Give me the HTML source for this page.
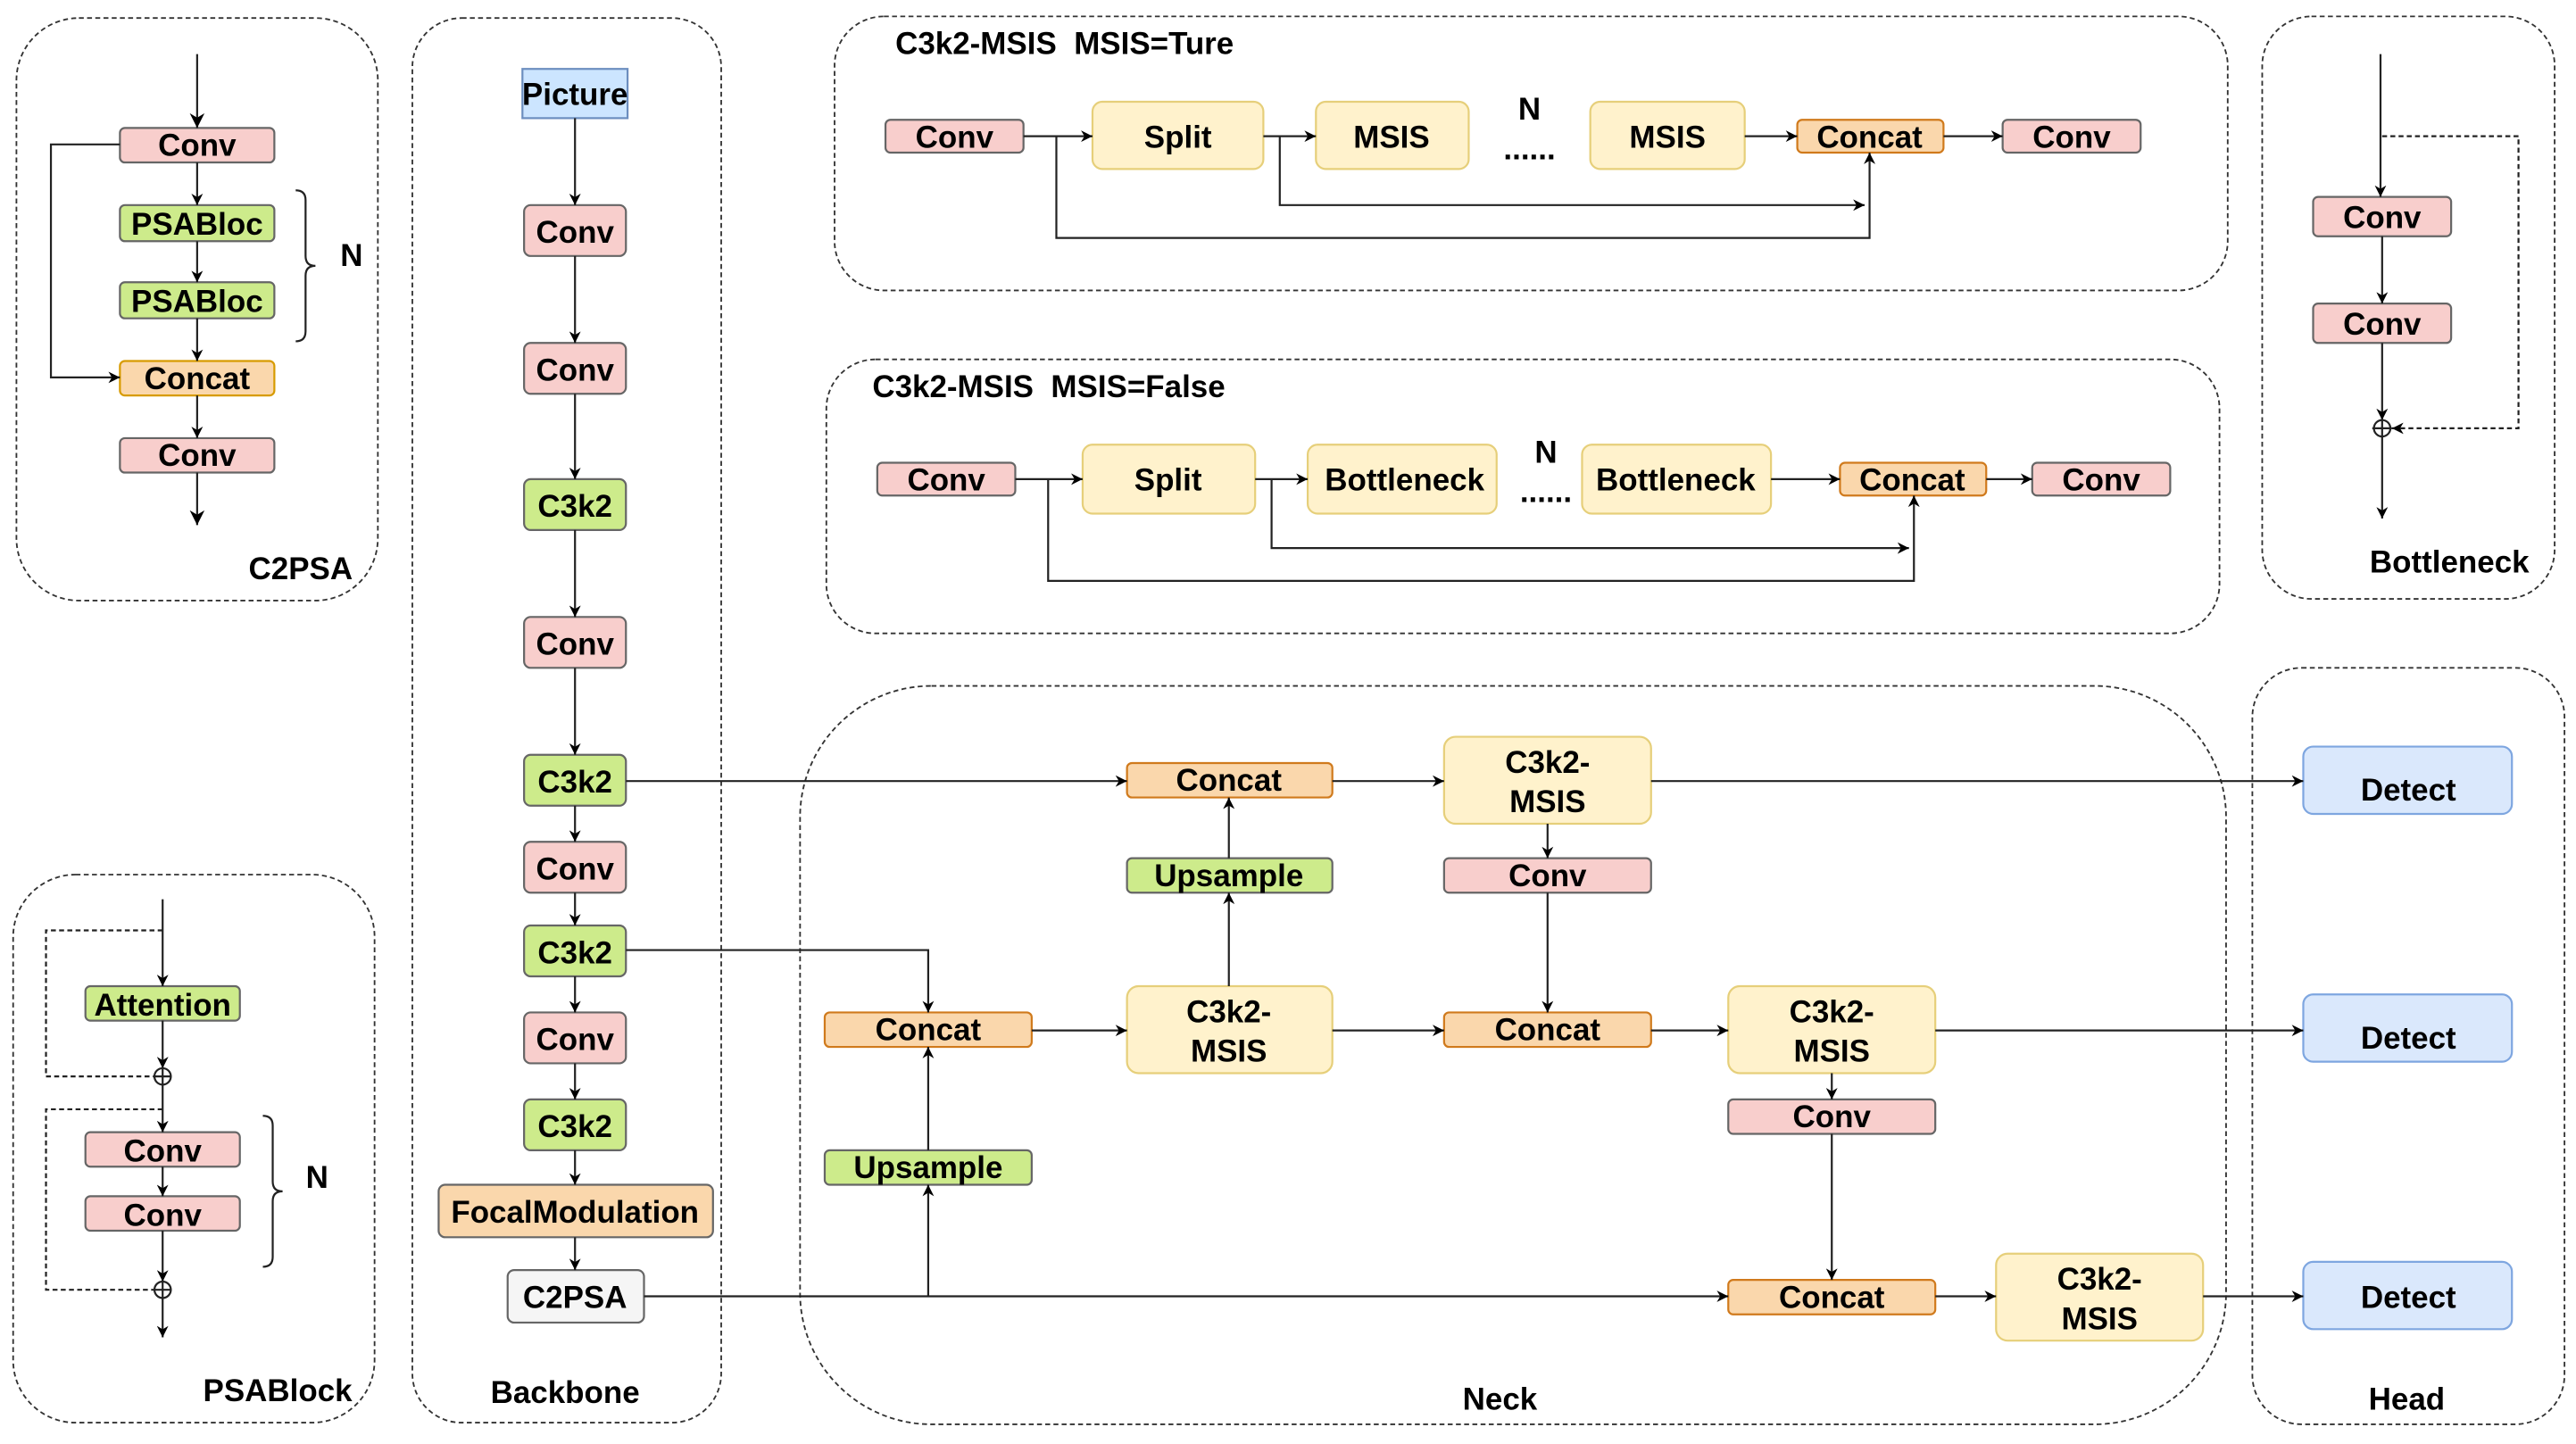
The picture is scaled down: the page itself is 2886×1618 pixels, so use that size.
<!DOCTYPE html>
<html><head><meta charset="utf-8"><style>
html,body{margin:0;padding:0;background:#fff;}
svg{display:block;}
text{font-family:"Liberation Sans",Arial,sans-serif;font-weight:bold;fill:#000;}
</style></head><body>
<svg width="2886" height="1618" viewBox="0 0 1568 880" preserveAspectRatio="none" xmlns="http://www.w3.org/2000/svg">
<defs>
<marker id="a" viewBox="0 0 10 10" refX="10" refY="5" markerWidth="7" markerHeight="7" orient="auto" markerUnits="userSpaceOnUse">
<path d="M0,0 L10,5 L0,10 L3,5 z" fill="#000"/></marker>
<marker id="b" viewBox="0 0 10 10" refX="10" refY="5" markerWidth="9" markerHeight="9" orient="auto" markerUnits="userSpaceOnUse">
<path d="M0,0 L10,5 L0,10 L3,5 z" fill="#000"/></marker>
</defs>
<g fill="none" stroke="#333" stroke-width="1" stroke-dasharray="3,2">
<rect x="10" y="11" width="220" height="355" rx="38"/>
<rect x="251" y="11" width="188" height="856" rx="30"/>
<rect x="508" y="10" width="848" height="167" rx="30"/>
<rect x="503" y="219" width="848" height="167" rx="30"/>
<rect x="1377" y="10" width="178" height="355" rx="30"/>
<rect x="8" y="533" width="220" height="334" rx="38"/>
<rect x="487" y="418" width="868" height="450" rx="80"/>
<rect x="1371" y="407" width="190" height="461" rx="30"/>
</g>
<g font-size="19" text-anchor="middle">
<text x="183" y="353">C2PSA</text>
<text x="344" y="855">Backbone</text>
<text x="1491" y="349">Bottleneck</text>
<text x="169" y="854">PSABlock</text>
<text x="913" y="859">Neck</text>
<text x="1465" y="859">Head</text>
<text x="214" y="162">N</text>
<text x="193" y="724">N</text>
<text x="931" y="73">N</text>
<text x="931" y="97">......</text>
<text x="941" y="282">N</text>
<text x="941" y="306">......</text>
</g>
<g font-size="19">
<text x="545" y="33" xml:space="preserve" style="white-space:pre">C3k2-MSIS  MSIS=Ture</text>
<text x="531" y="242" xml:space="preserve" style="white-space:pre">C3k2-MSIS  MSIS=False</text>
</g>
<g stroke-width="1.2">
<rect x="73" y="78" width="94" height="21" rx="3" fill="#f8cecc" stroke="#666"/>
<rect x="73" y="125" width="94" height="22" rx="3" fill="#cdeb8b" stroke="#666"/>
<rect x="73" y="172" width="94" height="22" rx="3" fill="#cdeb8b" stroke="#666"/>
<rect x="73" y="220" width="94" height="21" rx="3" fill="#fad7ac" stroke="#d79b00"/>
<rect x="73" y="267" width="94" height="21" rx="3" fill="#f8cecc" stroke="#666"/>
<rect x="318" y="42" width="64" height="30" fill="#cce5ff" stroke="#6c8ebf"/>
<rect x="319" y="125" width="62" height="31" rx="4" fill="#f8cecc" stroke="#666"/>
<rect x="319" y="209" width="62" height="31" rx="4" fill="#f8cecc" stroke="#666"/>
<rect x="319" y="292" width="62" height="31" rx="4" fill="#cdeb8b" stroke="#666"/>
<rect x="319" y="376" width="62" height="31" rx="4" fill="#f8cecc" stroke="#666"/>
<rect x="319" y="460" width="62" height="31" rx="4" fill="#cdeb8b" stroke="#666"/>
<rect x="319" y="513" width="62" height="31" rx="4" fill="#f8cecc" stroke="#666"/>
<rect x="319" y="564" width="62" height="31" rx="4" fill="#cdeb8b" stroke="#666"/>
<rect x="319" y="617" width="62" height="31" rx="4" fill="#f8cecc" stroke="#666"/>
<rect x="319" y="670" width="62" height="31" rx="4" fill="#cdeb8b" stroke="#666"/>
<rect x="267" y="722" width="167" height="32" rx="4" fill="#fad7ac" stroke="#666"/>
<rect x="309" y="774" width="83" height="32" rx="4" fill="#f5f5f5" stroke="#666"/>
<rect x="539" y="73" width="84" height="20" rx="3" fill="#f8cecc" stroke="#666"/>
<rect x="665" y="62" width="104" height="41" rx="6" fill="#fff2cc" stroke="#e6cf7a"/>
<rect x="801" y="62" width="93" height="41" rx="6" fill="#fff2cc" stroke="#e6cf7a"/>
<rect x="968" y="62" width="94" height="41" rx="6" fill="#fff2cc" stroke="#e6cf7a"/>
<rect x="1094" y="73" width="89" height="20" rx="3" fill="#fad7ac" stroke="#d07a1c"/>
<rect x="1219" y="73" width="84" height="20" rx="3" fill="#f8cecc" stroke="#666"/>
<rect x="534" y="282" width="84" height="20" rx="3" fill="#f8cecc" stroke="#666"/>
<rect x="659" y="271" width="105" height="42" rx="6" fill="#fff2cc" stroke="#e6cf7a"/>
<rect x="796" y="271" width="115" height="42" rx="6" fill="#fff2cc" stroke="#e6cf7a"/>
<rect x="963" y="271" width="115" height="42" rx="6" fill="#fff2cc" stroke="#e6cf7a"/>
<rect x="1120" y="282" width="89" height="20" rx="3" fill="#fad7ac" stroke="#d07a1c"/>
<rect x="1237" y="282" width="84" height="20" rx="3" fill="#f8cecc" stroke="#666"/>
<rect x="1408" y="120" width="84" height="24" rx="3" fill="#f8cecc" stroke="#666"/>
<rect x="1408" y="185" width="84" height="24" rx="3" fill="#f8cecc" stroke="#666"/>
<rect x="52" y="601" width="94" height="21" rx="3" fill="#cdeb8b" stroke="#666"/>
<rect x="52" y="690" width="94" height="21" rx="3" fill="#f8cecc" stroke="#666"/>
<rect x="52" y="729" width="94" height="21" rx="3" fill="#f8cecc" stroke="#666"/>
<rect x="686" y="465" width="125" height="21" rx="3" fill="#fad7ac" stroke="#d07a1c"/>
<rect x="879" y="449" width="126" height="53" rx="7" fill="#fff2cc" stroke="#e6cf7a"/>
<rect x="879" y="523" width="126" height="21" rx="3" fill="#f8cecc" stroke="#666"/>
<rect x="686" y="523" width="125" height="21" rx="3" fill="#cdeb8b" stroke="#666"/>
<rect x="502" y="617" width="126" height="21" rx="3" fill="#fad7ac" stroke="#d07a1c"/>
<rect x="686" y="601" width="125" height="53" rx="7" fill="#fff2cc" stroke="#e6cf7a"/>
<rect x="879" y="617" width="126" height="21" rx="3" fill="#fad7ac" stroke="#d07a1c"/>
<rect x="1052" y="601" width="126" height="53" rx="7" fill="#fff2cc" stroke="#e6cf7a"/>
<rect x="1052" y="670" width="126" height="21" rx="3" fill="#f8cecc" stroke="#666"/>
<rect x="502" y="701" width="126" height="21" rx="3" fill="#cdeb8b" stroke="#666"/>
<rect x="1052" y="780" width="126" height="21" rx="3" fill="#fad7ac" stroke="#d07a1c"/>
<rect x="1215" y="764" width="126" height="53" rx="7" fill="#fff2cc" stroke="#e6cf7a"/>
<rect x="1402" y="455" width="127" height="41" rx="6" fill="#dae8fc" stroke="#7ea6e0"/>
<rect x="1402" y="606" width="127" height="41" rx="6" fill="#dae8fc" stroke="#7ea6e0"/>
<rect x="1402" y="769" width="127" height="41" rx="6" fill="#dae8fc" stroke="#7ea6e0"/>
</g>
<g font-size="19" text-anchor="middle">
<text x="120" y="95">Conv</text>
<text x="120" y="143">PSABloc</text>
<text x="120" y="190">PSABloc</text>
<text x="120" y="237">Concat</text>
<text x="120" y="284">Conv</text>
<text x="350" y="64">Picture</text>
<text x="350" y="148">Conv</text>
<text x="350" y="232">Conv</text>
<text x="350" y="315">C3k2</text>
<text x="350" y="399">Conv</text>
<text x="350" y="483">C3k2</text>
<text x="350" y="536">Conv</text>
<text x="350" y="587">C3k2</text>
<text x="350" y="640">Conv</text>
<text x="350" y="693">C3k2</text>
<text x="350" y="745">FocalModulation</text>
<text x="350" y="797">C2PSA</text>
<text x="581" y="90">Conv</text>
<text x="717" y="90">Split</text>
<text x="847" y="90">MSIS</text>
<text x="1015" y="90">MSIS</text>
<text x="1138" y="90">Concat</text>
<text x="1261" y="90">Conv</text>
<text x="576" y="299">Conv</text>
<text x="711" y="299">Split</text>
<text x="855" y="299">Bottleneck</text>
<text x="1020" y="299">Bottleneck</text>
<text x="1164" y="299">Concat</text>
<text x="1279" y="299">Conv</text>
<text x="1450" y="139">Conv</text>
<text x="1450" y="204">Conv</text>
<text x="99" y="619">Attention</text>
<text x="99" y="708">Conv</text>
<text x="99" y="747">Conv</text>
<text x="748" y="482">Concat</text>
<text x="942" y="471">C3k2-</text>
<text x="942" y="495">MSIS</text>
<text x="942" y="540">Conv</text>
<text x="748" y="540">Upsample</text>
<text x="565" y="634">Concat</text>
<text x="748" y="623">C3k2-</text>
<text x="748" y="647">MSIS</text>
<text x="942" y="634">Concat</text>
<text x="1115" y="623">C3k2-</text>
<text x="1115" y="647">MSIS</text>
<text x="1115" y="687">Conv</text>
<text x="565" y="718">Upsample</text>
<text x="1115" y="797">Concat</text>
<text x="1278" y="786">C3k2-</text>
<text x="1278" y="810">MSIS</text>
<text x="1466" y="488">Detect</text>
<text x="1466" y="639">Detect</text>
<text x="1466" y="797">Detect</text>
</g>
<g fill="none" stroke="#222" stroke-width="1.2">
<path d="M120,33V78" marker-end="url(#b)"/>
<path d="M120,99V125" marker-end="url(#a)"/>
<path d="M120,147V172" marker-end="url(#a)"/>
<path d="M120,194V220" marker-end="url(#a)"/>
<path d="M120,241V267" marker-end="url(#a)"/>
<path d="M120,288V320" marker-end="url(#b)"/>
<path d="M73,88H31V230H73" marker-end="url(#a)"/>
<path d="M330,252q6,0 6,6v34q0,6 6,6 q-6,0 -6,6v34q0,6 -6,6" transform="translate(-150,-136)"/>
<path d="M330,252q6,0 6,6v34q0,6 6,6 q-6,0 -6,6v34q0,6 -6,6" transform="translate(-170,428)"/>
<path d="M350,72V125" marker-end="url(#a)"/>
<path d="M350,156V209" marker-end="url(#a)"/>
<path d="M350,240V292" marker-end="url(#a)"/>
<path d="M350,323V376" marker-end="url(#a)"/>
<path d="M350,407V460" marker-end="url(#a)"/>
<path d="M350,491V513" marker-end="url(#a)"/>
<path d="M350,544V564" marker-end="url(#a)"/>
<path d="M350,595V617" marker-end="url(#a)"/>
<path d="M350,648V670" marker-end="url(#a)"/>
<path d="M350,701V722" marker-end="url(#a)"/>
<path d="M350,754V774" marker-end="url(#a)"/>
<path d="M623,83H665" marker-end="url(#a)"/>
<path d="M769,83H801" marker-end="url(#a)"/>
<path d="M1062,83H1094" marker-end="url(#a)"/>
<path d="M1183,83H1219" marker-end="url(#a)"/>
<path d="M643,83V145H1138V93" marker-end="url(#a)"/>
<path d="M779,83V125H1135" marker-end="url(#a)"/>
<path d="M618,292H659" marker-end="url(#a)"/>
<path d="M764,292H796" marker-end="url(#a)"/>
<path d="M1078,292H1120" marker-end="url(#a)"/>
<path d="M1209,292H1237" marker-end="url(#a)"/>
<path d="M638,292V354H1165V302" marker-end="url(#a)"/>
<path d="M774,292V334H1162" marker-end="url(#a)"/>
<path d="M1449,33V120" marker-end="url(#a)"/>
<path d="M1450,144V185" marker-end="url(#a)"/>
<path d="M1450,209V256" marker-end="url(#a)"/>
<path d="M1450,266V316" marker-end="url(#a)"/>
<circle cx="1450" cy="261" r="5"/>
<path d="M1444,261H1456M1450,255V267"/>
<path d="M1450,83H1533V261H1456" stroke-dasharray="3,2" marker-end="url(#a)"/>
<path d="M99,548V601" marker-end="url(#a)"/>
<path d="M99,622V651" marker-end="url(#a)"/>
<circle cx="99" cy="656" r="5"/>
<path d="M94,656H104M99,651V661"/>
<path d="M99,661V690" marker-end="url(#a)"/>
<path d="M99,711V729" marker-end="url(#a)"/>
<path d="M99,750V781" marker-end="url(#a)"/>
<circle cx="99" cy="786" r="5"/>
<path d="M94,786H104M99,781V791"/>
<path d="M99,791V815" marker-end="url(#a)"/>
<path d="M99,567H28V656H94" stroke-dasharray="3,2"/>
<path d="M99,676H28V786H94" stroke-dasharray="3,2"/>
<path d="M381,476H686" marker-end="url(#a)"/>
<path d="M811,476H879" marker-end="url(#a)"/>
<path d="M1005,476H1402" marker-end="url(#a)"/>
<path d="M942,502V523" marker-end="url(#a)"/>
<path d="M942,544V617" marker-end="url(#a)"/>
<path d="M748,523V486" marker-end="url(#a)"/>
<path d="M748,601V544" marker-end="url(#a)"/>
<path d="M381,579H565V617" marker-end="url(#a)"/>
<path d="M628,628H686" marker-end="url(#a)"/>
<path d="M811,628H879" marker-end="url(#a)"/>
<path d="M1005,628H1052" marker-end="url(#a)"/>
<path d="M1178,628H1402" marker-end="url(#a)"/>
<path d="M1115,654V670" marker-end="url(#a)"/>
<path d="M1115,691V780" marker-end="url(#a)"/>
<path d="M392,790H1052" marker-end="url(#a)"/>
<path d="M565,790V722" marker-end="url(#a)"/>
<path d="M565,701V638" marker-end="url(#a)"/>
<path d="M1178,790H1215" marker-end="url(#a)"/>
<path d="M1341,790H1402" marker-end="url(#a)"/>
</g>
</svg>
</body></html>
